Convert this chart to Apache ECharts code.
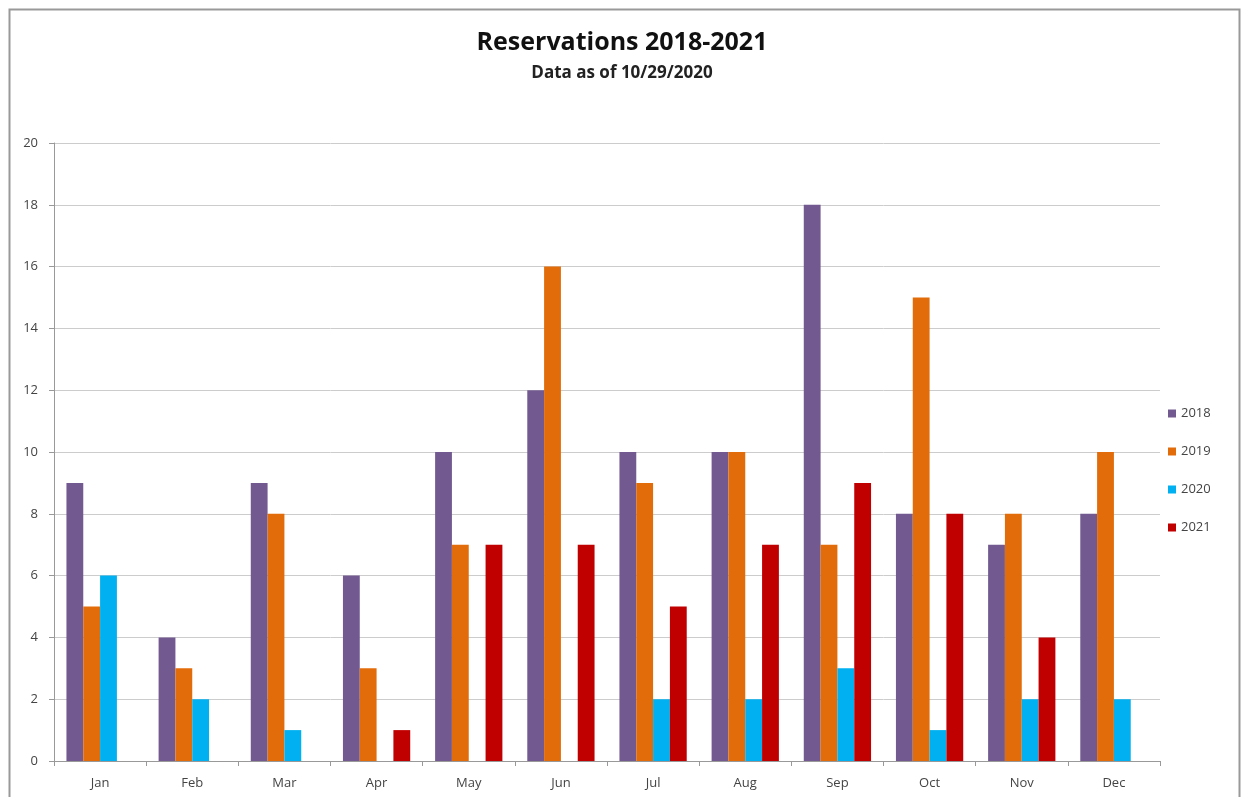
<!DOCTYPE html>
<html>
<head>
<meta charset="utf-8">
<script src="https://cdn.jsdelivr.net/npm/echarts@6/dist/echarts.min.js"></script>
<style>
html,body{margin:0;padding:0;background:#fff;}
#c{width:1244px;height:797px;}
</style>
</head>
<body>
<div id="c"></div>
<script>
const months = ['Jan','Feb','Mar','Apr','May','Jun','Jul','Aug','Sep','Oct','Nov','Dec'];
const s2018 = [9,4,9,6,10,12,10,10,18,8,7,8];
const s2019 = [5,3,8,3,7,16,9,10,7,15,8,10];
const s2020 = [6,2,1,0,0,0,2,2,3,1,2,2];
const s2021 = [0,0,0,1,7,7,5,7,9,8,4,0];
const seriesNames = ['2018','2019','2020','2021'];
const colors = ['#725A91','#E36C0A','#00B0F0','#C00000'];

const chart = echarts.init(document.getElementById('c'));
const font = '"Open Sans", "Liberation Sans", sans-serif';
const mk = (name, data, i) => ({
  name, type:'bar', data, barGap:'0%', barCategoryGap:'27%',
  itemStyle:{color:colors[i]}
});
chart.setOption({
  animation:false,
  color:colors,
  textStyle:{fontFamily:font},
  title:{
    text:'Reservations 2018-2021',
    subtext:'Data as of 10/29/2020',
    left:'center', top:25, itemGap:10,
    textStyle:{fontFamily:font,fontSize:25,fontWeight:'bold',color:'#111'},
    subtextStyle:{fontFamily:font,fontSize:17,fontWeight:'bold',color:'#222'}
  },
  graphic:[{type:'rect',shape:{x:9.5,y:9.5,width:1230,height:800},
    style:{fill:'none',stroke:'#999',lineWidth:2},silent:true}],
  legend:{
    orient:'vertical', left:1163, top:402, itemGap:25,
    itemWidth:8, itemHeight:8, icon:'rect',
    textStyle:{fontFamily:font,fontSize:13,color:'#444'},
    data:seriesNames
  },
  grid:{left:54,right:84,top:143,bottom:36,containLabel:false},
  xAxis:{
    type:'category', data:months,
    axisLine:{lineStyle:{color:'#999'}},
    axisTick:{show:true,length:5,lineStyle:{color:'#999'}},
    axisLabel:{color:'#444',fontSize:13,margin:16,fontFamily:font}
  },
  yAxis:{
    type:'value', min:0, max:20, interval:2,
    axisLine:{show:true,lineStyle:{color:'#999'}},
    axisTick:{show:true,length:5,lineStyle:{color:'#999'}},
    splitLine:{lineStyle:{color:'#ccc'}},
    axisLabel:{color:'#444',fontSize:13,margin:16,fontFamily:font}
  },
  series:[mk('2018',s2018,0),mk('2019',s2019,1),mk('2020',s2020,2),mk('2021',s2021,3)]
});
</script>
</body>
</html>
